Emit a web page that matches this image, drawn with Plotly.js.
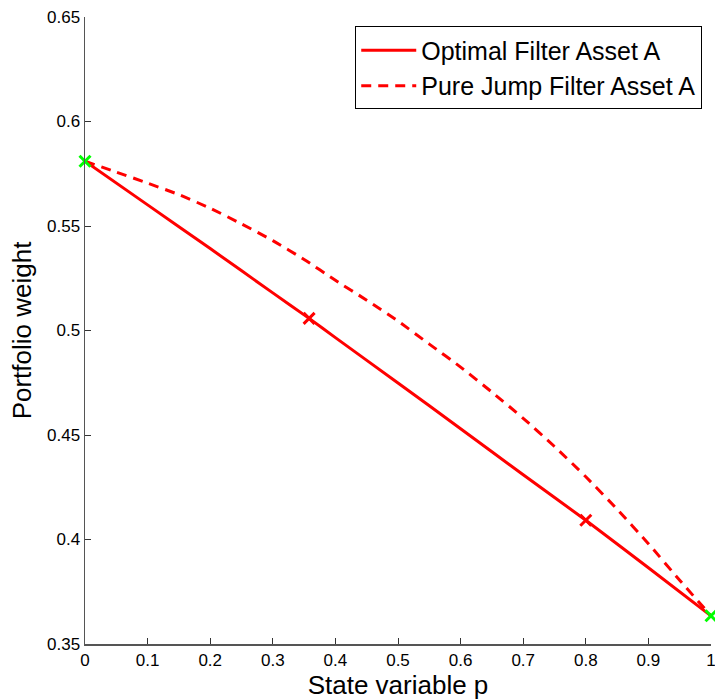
<!DOCTYPE html>
<html>
<head>
<meta charset="utf-8">
<script src="https://cdn.plot.ly/plotly-3.0.1.min.js"></script>
<style>html,body{margin:0;padding:0;background:#fff;}#chart{width:715px;height:700px;}</style>
</head>
<body>
<div id="chart"></div>
<script>
// Optimal filter curve
const pOptimal = [0, 0.1, 0.2, 0.3, 0.358, 0.4, 0.5, 0.6, 0.7, 0.8, 0.9, 1.0];
const wOptimal = [0.581, 0.5601, 0.5392, 0.518, 0.5058, 0.4966, 0.4749, 0.453, 0.431, 0.4092, 0.3865, 0.3635];

// Pure jump filter curve
const pJump = [0, 0.05, 0.1, 0.15, 0.2, 0.25, 0.3, 0.35, 0.4, 0.45, 0.5, 0.55, 0.6, 0.65, 0.7, 0.75, 0.8, 0.85, 0.9, 0.95, 1.0];
const wJump = [0.581, 0.5758, 0.5705, 0.565, 0.5585, 0.551, 0.543, 0.534, 0.524, 0.5145, 0.5045, 0.4935, 0.4825, 0.4705, 0.458, 0.4445, 0.43, 0.4145, 0.398, 0.3805, 0.3635];

// Red cross markers on the optimal filter curve
const pRedMarks = [0.358, 0.8];
const wRedMarks = [0.5058, 0.4092];

// Green cross markers at the ends
const pGreenMarks = [0, 1];
const wGreenMarks = [0.581, 0.3635];

const xTicks = [0, 0.1, 0.2, 0.3, 0.4, 0.5, 0.6, 0.7, 0.8, 0.9, 1];
const xTickText = ["0", "0.1", "0.2", "0.3", "0.4", "0.5", "0.6", "0.7", "0.8", "0.9", "1"];
const yTicks = [0.35, 0.4, 0.45, 0.5, 0.55, 0.6, 0.65];
const yTickText = ["0.35", "0.4", "0.45", "0.5", "0.55", "0.6", "0.65"];

const traces = [
  {x: pOptimal, y: wOptimal, mode: 'lines', name: 'Optimal Filter Asset A',
   line: {color: '#ff0000', width: 3, shape: 'spline', smoothing: 0.6}},
  {x: pJump, y: wJump, mode: 'lines', name: 'Pure Jump Filter Asset A',
   line: {color: '#ff0000', width: 3, dash: '10px,7px', shape: 'spline', smoothing: 0.6}},
  {x: pRedMarks, y: wRedMarks, mode: 'markers', showlegend: false,
   marker: {symbol: 'x-thin-open', size: 11, color: '#ff0000', line: {color: '#ff0000', width: 3}}},
  {x: pGreenMarks, y: wGreenMarks, mode: 'markers', showlegend: false, cliponaxis: false,
   marker: {symbol: 'x-thin-open', size: 11, color: '#00ff00', line: {color: '#00ff00', width: 3}}}
];

const layout = {
  width: 715, height: 700,
  margin: {l: 85, r: 4, t: 17, b: 56},
  paper_bgcolor: '#fff', plot_bgcolor: '#fff',
  font: {family: 'Liberation Sans, Arial, sans-serif', color: '#000', size: 17},
  showlegend: true,
  legend: {
    x: 0.986, y: 0.985, xanchor: 'right', yanchor: 'top',
    bgcolor: '#fff', bordercolor: '#000', borderwidth: 1,
    font: {size: 25, color: '#000'},
    itemwidth: 55,
    tracegroupgap: 0
  },
  xaxis: {
    range: [0, 1], tickvals: xTicks, ticktext: xTickText,
    ticks: 'inside', ticklen: 6, tickcolor: '#333', tickwidth: 1,
    showline: true, linecolor: '#555', linewidth: 1.5, mirror: false,
    showgrid: false, zeroline: false, ticklabeloverflow: 'allow',
    tickfont: {size: 17, color: '#000'},
    title: {text: 'State variable p', font: {size: 26, color: '#000'}}
  },
  yaxis: {
    range: [0.35, 0.65], tickvals: yTicks, ticktext: yTickText,
    ticks: 'inside', ticklen: 6, tickcolor: '#333', tickwidth: 1,
    showline: true, linecolor: '#555', linewidth: 1.5, mirror: false,
    showgrid: false, zeroline: false, ticklabeloverflow: 'allow',
    tickfont: {size: 17, color: '#000'},
    title: {text: 'Portfolio weight', font: {size: 26, color: '#000'}, standoff: 8}
  }
};

Plotly.newPlot('chart', traces, layout, {displayModeBar: false, staticPlot: true});
</script>
</body>
</html>
